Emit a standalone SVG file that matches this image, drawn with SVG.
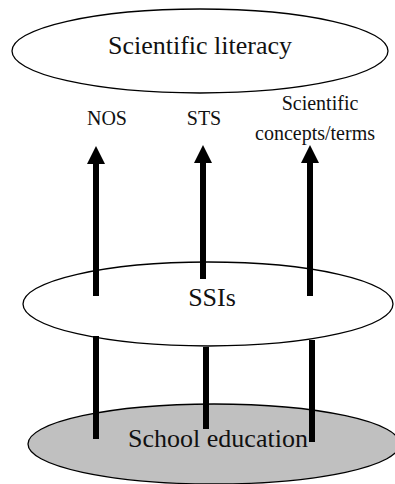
<svg xmlns="http://www.w3.org/2000/svg" width="395" height="484" viewBox="0 0 395 484">
  <style>
    .node { stroke: #000; stroke-width: 1.3; }
    .lbl { font-family: "Liberation Serif", serif; fill: #111; text-anchor: middle; }
    .big { font-size: 26px; }
    .small { font-size: 20px; }
    .bar { stroke: #000; stroke-width: 6; fill: none; }
  </style>
  <defs>
    <marker id="head" viewBox="0 0 18 18" markerWidth="18" markerHeight="18" refX="0" refY="9" orient="auto" markerUnits="userSpaceOnUse">
      <path d="M0,0 L18,9 L0,18 z" fill="#000"/>
    </marker>
  </defs>
  <rect width="395" height="484" fill="#fff"/>

  <g id="scientific-literacy">
    <ellipse class="node" cx="200" cy="51" rx="188" ry="42" fill="#fff"/>
    <text class="lbl big" x="200" y="54">Scientific literacy</text>
  </g>

  <g id="ssis">
    <ellipse class="node" cx="208" cy="304" rx="185" ry="42" fill="#fff"/>
    <text class="lbl big" x="212" y="306">SSIs</text>
  </g>

  <g id="school-education">
    <ellipse class="node" cx="214" cy="444" rx="186" ry="40" fill="#c0c0c0"/>
  </g>

  <g id="nos"><text class="lbl small" x="107" y="125">NOS</text></g>
  <g id="sts"><text class="lbl small" x="204" y="125">STS</text></g>
  <g id="concepts">
    <text class="lbl small" x="320" y="110">Scientific</text>
    <text class="lbl small" x="315" y="140">concepts/terms</text>
  </g>

  <g id="connectors">
    <!-- upward arrows from SSIs -->
    <line class="bar" x1="96" y1="296" x2="96" y2="164" marker-end="url(#head)"/>
    <line class="bar" x1="203" y1="279" x2="203" y2="163" marker-end="url(#head)"/>
    <line class="bar" x1="310" y1="296" x2="310" y2="163" marker-end="url(#head)"/>
    <!-- supports from school education -->
    <line class="bar" x1="96" y1="336" x2="96" y2="439"/>
    <line class="bar" x1="206" y1="347" x2="206" y2="429"/>
    <line class="bar" x1="312" y1="340" x2="312" y2="442"/>
  </g>

  <!-- label sits above the supports -->
  <text class="lbl big" x="218" y="447">School education</text>
</svg>
